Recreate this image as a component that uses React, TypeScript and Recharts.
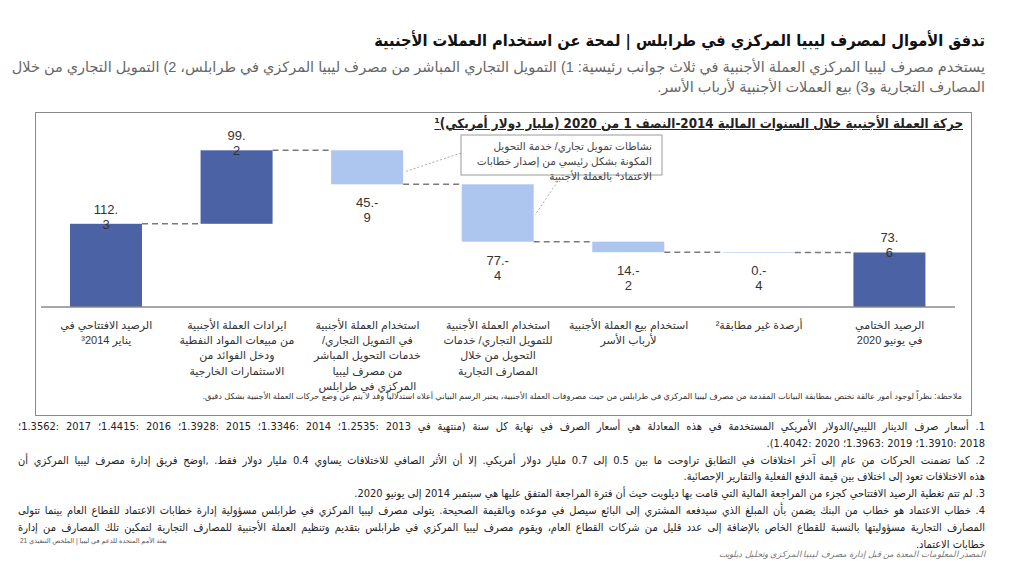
import { BarChart, Bar, XAxis, YAxis } from "recharts";

const categories = [
  "الرصيد الافتتاحي في\nيناير ³2014",
  "ايرادات العملة الأجنبية\nمن مبيعات المواد النفطية\nودخل الفوائد من\nالاستثمارات الخارجية",
  "استخدام العملة الأجنبية\nفي التمويل التجاري/\nخدمات التحويل المباشر\nمن مصرف ليبيا\nالمركزي في طرابلس",
  "استخدام العملة الأجنبية\nللتمويل التجاري/ خدمات\nالتحويل من خلال\nالمصارف التجارية",
  "استخدام بيع العملة الأجنبية\nلأرباب الأسر",
  "أرصدة غير مطابقة²",
  "الرصيد الختامي\nفي يونيو 2020",
];
const values = [112.3, 99.2, -45.9, -77.4, -14.2, -0.4, 73.6];
const isTotal = [true, false, false, false, false, false, true];

const DARK = "#4b62a5";
const LIGHT = "#adc6ef";
const CHART_W = 914;
const BAND = CHART_W / categories.length;

// waterfall: invisible base + visible step
let running = 0;
const data = categories.map((name, i) => {
  const v = values[i];
  let base = 0;
  let size = v;
  if (isTotal[i]) {
    running = v;
  } else if (v >= 0) {
    base = running;
    running += v;
  } else {
    base = running + v;
    size = -v;
    running += v;
  }
  return { name, i, value: v, total: isTotal[i], base, size };
});

const FONT = "'Liberation Sans', 'DejaVu Sans', Arial, sans-serif";
const COND = "'Liberation Sans Narrow', 'DejaVu Sans Condensed', 'DejaVu Sans', sans-serif";

function StepBar(props: any) {
  const { x, y, width, height, payload } = props;
  const v: number = payload.value;
  const neg = v < 0;
  const fill = payload.total || !neg ? DARK : LIGHT;
  const level = neg ? y + height : y;
  const [ip, dp] = Math.abs(v).toFixed(1).split(".");
  const l1 = ip + "." + (neg ? "-" : "");
  const cx = x + width / 2;
  const y1 = neg ? y + height + 23 : y - 10;
  const y2 = neg ? y + height + 38 : y + 5;
  const last = payload.i === categories.length - 1;
  return (
    <g>
      <rect x={x} y={y} width={width} height={Math.max(height, 0.6)} fill={fill} />
      {!last && (
        <line
          x1={x + width}
          x2={x + BAND}
          y1={level}
          y2={level}
          stroke="#7a7a7a"
          strokeWidth={1.5}
          strokeDasharray="6 4"
        />
      )}
      <text x={cx} y={y1} textAnchor="middle" fontSize={13} fill="#333" direction="ltr" fontFamily={FONT}>
        {l1}
      </text>
      <text x={cx} y={y2} textAnchor="middle" fontSize={13} fill="#333" direction="ltr" fontFamily={FONT}>
        {dp}
      </text>
    </g>
  );
}

function CatTick(props: any) {
  const { x, y, payload } = props;
  const lines = String(payload.value).split("\n");
  return (
    <text x={x} y={y} textAnchor="middle" fontSize={11} fill="#333" fontFamily={FONT} direction="rtl">
      {lines.map((l, k) => (
        <tspan key={k} x={x} dy={k === 0 ? 14 : 15.2}>
          {l}
        </tspan>
      ))}
    </text>
  );
}

const abs = (o: any) => ({ position: "absolute" as const, whiteSpace: "nowrap" as const, direction: "rtl" as const, ...o });

const footLines: [string, boolean][] = [
  ["1. أسعار صرف الدينار الليبي/الدولار الأمريكي المستخدمة في هذه المعادلة هي أسعار الصرف في نهاية كل سنة (منتهية في 2013 :1.2535؛ 2014 :1.3346؛ 2015 :1.3928؛ 2016 :1.4415؛ 2017 :1.3562؛", true],
  ["2018 :1.3910؛ 2019 :1.3963؛ 2020 :1.4042).", false],
  ["2. كما تضمنت الحركات من عام إلى آخر اختلافات في التطابق تراوحت ما بين 0.5 إلى 0.7 مليار دولار أمريكي. إلا أن الأثر الصافي للاختلافات يساوي 0.4 مليار دولار فقط. ,اوضح فريق إدارة مصرف ليبيا المركزي أن", true],
  ["هذه الاختلافات تعود إلى اختلاف بين قيمة الدفع الفعلية والتقارير الإحصائية.", false],
  ["3. لم تتم تغطية الرصيد الافتتاحي كجزء من المراجعة المالية التي قامت بها ديلويت حيث أن فترة المراجعة المتفق عليها هي سبتمبر 2014 إلى يونيو 2020.", false],
  ["4. خطاب الاعتماد هو خطاب من البنك يضمن بأن المبلغ الذي سيدفعه المشتري إلى البائع سيصل في موعده وبالقيمة الصحيحة. يتولى مصرف ليبيا المركزي في طرابلس مسؤولية إدارة خطابات الاعتماد للقطاع العام بينما تتولى", true],
  ["المصارف التجارية مسؤوليتها بالنسبة للقطاع الخاص بالإضافة إلى عدد قليل من شركات القطاع العام، ويقوم مصرف ليبيا المركزي في طرابلس بتقديم وتنظيم العملة الأجنبية للمصارف التجارية لتمكين تلك المصارف من إدارة", true],
  ["خطابات الاعتماد.", false],
];

export default function App() {
  return (
    <div style={{ position: "absolute", left: 0, top: 0, width: 1024, height: 561, background: "#fff", overflow: "hidden", fontFamily: FONT, color: "#222" }}>
      <div style={abs({ right: 39, top: 31, fontSize: 16.3, fontWeight: "bold", color: "#111", fontFamily: COND })}>
        تدفق الأموال لمصرف ليبيا المركزي في طرابلس | لمحة عن استخدام العملات الأجنبية
      </div>
      <div style={abs({ right: 39, top: 57, fontSize: 14.5, color: "#666", lineHeight: "20px", textAlign: "right" })}>
        يستخدم مصرف ليبيا المركزي العملة الأجنبية في ثلاث جوانب رئيسية: 1) التمويل التجاري المباشر من مصرف ليبيا المركزي في طرابلس، 2) التمويل التجاري من خلال
        <br />
        المصارف التجارية و3) بيع العملات الأجنبية لأرباب الأسر.
      </div>

      {/* chart frame */}
      <div style={{ position: "absolute", left: 35, top: 112, width: 935, height: 302, border: "1.5px solid #8a8a8a" }} />
      <div style={abs({ right: 61, top: 116, fontSize: 13.3, fontWeight: "bold", textDecoration: "underline", color: "#222", fontFamily: COND })}>
        حركة العملة الأجنبية خلال السنوات المالية 2014-النصف 1 من 2020 (مليار دولار أمريكي)¹
      </div>

      <div style={{ position: "absolute", left: 41, top: 104 }}>
        <BarChart width={CHART_W} height={300} data={data} margin={{ top: 40, right: 0, bottom: 0, left: 0 }} barSize={72}>
          <XAxis
            dataKey="name"
            interval={0}
            axisLine={{ stroke: "#8a8a8a", strokeWidth: 1.5 }}
            tickLine={false}
            height={97}
            tick={<CatTick />}
          />
          <YAxis hide domain={[0, 220]} />
          <Bar dataKey="base" stackId="w" fill="transparent" isAnimationActive={false} />
          <Bar dataKey="size" stackId="w" shape={<StepBar />} isAnimationActive={false} />
        </BarChart>
      </div>

      {/* callout */}
      <svg style={{ position: "absolute", left: 0, top: 0 }} width={1024} height={561}>
        <line x1={461} y1={153} x2={404} y2={172} stroke="#aaa" strokeDasharray="2 2" />
        <line x1={560} y1={178} x2={535} y2={215} stroke="#aaa" strokeDasharray="2 2" />
        <rect x={461} y={135} width={201} height={40} fill="#fff" stroke="#999" />
      </svg>
      <div style={abs({ right: 1024 - 652, top: 139, fontSize: 10.5, lineHeight: "15px", color: "#444", textAlign: "right" })}>
        نشاطات تمويل تجاري/ خدمة التحويل
        <br />
        المكونة بشكل رئيسي من إصدار خطابات
        <br />
        الاعتماد⁴ بالعملة الأجنبية
      </div>

      <div style={abs({ right: 62, top: 391, fontSize: 8.2, color: "#333" })}>
        ملاحظة: نظراً لوجود أمور عالقة تختص بمطابقة البيانات المقدمة من مصرف ليبيا المركزي في طرابلس من حيث مصروفات العملة الأجنبية، يعتبر الرسم البياني أعلاه استدلالياً وقد لا يتم عن وضع حركات العملة الأجنبية بشكل دقيق.
      </div>

      {/* footnotes */}
      <div style={{ position: "absolute", left: 18, top: 419, width: 967, direction: "rtl", fontSize: 11, lineHeight: "16.8px", color: "#222", fontFamily: COND }}>
        {footLines.map(([t, full], k) => (
          <div key={k} style={{ whiteSpace: "nowrap", textAlign: "right", textAlignLast: full ? "justify" : "right" }}>
            {t}
          </div>
        ))}
      </div>

      <div style={abs({ left: 20, top: 537, fontSize: 6.5, color: "#555" })}>
        بعثة الأمم المتحدة للدعم في ليبيا | الملخص التنفيذي 21
      </div>
      <div style={abs({ right: 39, top: 549, fontSize: 8.5, lineHeight: "11px", fontStyle: "italic", color: "#777" })}>
        المصدر المعلومات المعدة من قبل إدارة مصرف ليبيا المركزي وتحليل ديلويت
      </div>
    </div>
  );
}
